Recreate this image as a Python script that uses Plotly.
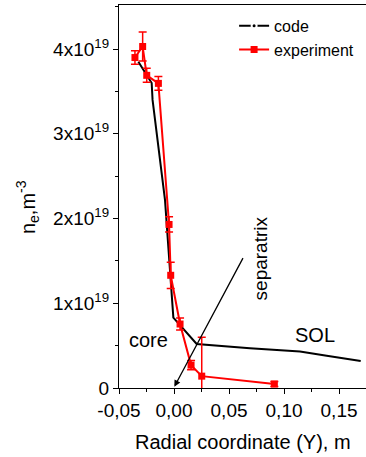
import plotly.graph_objects as go

# ---- data ----
code_x = [-0.0324, -0.0234, -0.0203, -0.0195, -0.0127, -0.0082, -0.0006, 0.0206, 0.069, 0.1145, 0.1388, 0.1697]
code_y = [3.85e19, 3.67e19, 3.60e19, 3.40e19, 2.71e19, 2.22e19, 0.83e19, 0.52e19, 0.468e19, 0.43e19, 0.38e19, 0.319e19]

exp_x = [-0.0355, -0.0285, -0.0248, -0.0142, -0.0045, -0.0030, 0.0055, 0.0155, 0.0252, 0.0912]
exp_y = [3.90e19, 4.03e19, 3.69e19, 3.595e19, 1.93e19, 1.33e19, 0.755e19, 0.27e19, 0.14e19, 0.047e19]
exp_err = [0.08e19, 0.17e19, 0.083e19, 0.08e19, 0.09e19, 0.155e19, 0.07e19, 0.055e19, 0.46e19, 0.03e19]

x_tick_vals = [-0.05, 0.0, 0.05, 0.10, 0.15]
x_tick_labels = ["-0,05", "0,00", "0,05", "0,10", "0,15"]
y_tick_vals = [0, 1e19, 2e19, 3e19, 4e19]
y_tick_labels = ["0", "1x10<sup>19</sup>", "2x10<sup>19</sup>", "3x10<sup>19</sup>", "4x10<sup>19</sup>"]

FONT = "Arial, Liberation Sans, sans-serif"

fig = go.Figure()

fig.add_trace(go.Scatter(
    x=code_x, y=code_y, mode="lines", name="code",
    line=dict(color="black", width=2), showlegend=False))

# legend-only entry for code (line with dot)
fig.add_trace(go.Scatter(
    x=[None], y=[None], mode="lines+markers", name="code",
    line=dict(color="black", width=2),
    marker=dict(color="black", size=5, symbol="circle",
                line=dict(color="white", width=2))))

fig.add_trace(go.Scatter(
    x=exp_x, y=exp_y, mode="lines+markers", name="experiment",
    line=dict(color="#ff0000", width=2),
    marker=dict(color="#ff0000", size=7, symbol="square"),
    error_y=dict(type="data", array=exp_err, visible=True,
                 color="#ff0000", thickness=1.5, width=4)))

fig.add_annotation(x=-0.0236, y=0.566e19, text="core", showarrow=False,
                   font=dict(size=20, color="black", family=FONT))
fig.add_annotation(x=0.128, y=0.625e19, text="SOL", showarrow=False,
                   font=dict(size=20, color="black", family=FONT))
fig.add_annotation(x=0.0782, y=1.53e19, text="separatrix", showarrow=False,
                   textangle=-90,
                   font=dict(size=19, color="black", family=FONT))
fig.add_annotation(x=0.0003, y=0.015e19, ax=0.0634, ay=1.55e19,
                   xref="x", yref="y", axref="x", ayref="y",
                   text="", showarrow=True, arrowhead=2, arrowsize=1,
                   arrowwidth=1.3, arrowcolor="black")

fig.add_annotation(xref="paper", yref="paper", x=0.502, y=-0.140,
                   xanchor="center", yanchor="middle",
                   text="Radial coordinate (Y), m", showarrow=False,
                   font=dict(size=20, color="black", family=FONT))
fig.add_annotation(xref="paper", yref="paper", x=-0.368, y=0.4726,
                   xanchor="center", yanchor="middle",
                   text="n<sub>e</sub>,m<sup>-3</sup>", showarrow=False,
                   textangle=-90,
                   font=dict(size=20, color="black", family=FONT))

fig.update_layout(
    width=366, height=457,
    margin=dict(l=119, r=0, t=5, b=69),
    plot_bgcolor="white", paper_bgcolor="white",
    font=dict(family=FONT, size=19, color="black"),
    legend=dict(x=0.466, y=0.99, xanchor="left", yanchor="top",
                bgcolor="rgba(0,0,0,0)", font=dict(size=16),
                tracegroupgap=0),
    xaxis=dict(range=[-0.05, 0.1745], showgrid=False, zeroline=False,
               showline=True, linecolor="black", linewidth=1.2, mirror=True,
               ticks="outside", ticklen=5, tickwidth=1.2, tickcolor="black",
               tickvals=x_tick_vals, ticktext=x_tick_labels,
               minor=dict(dtick=0.025, tick0=-0.05, ticks="outside", ticklen=3,
                          tickcolor="black", tickwidth=1)),
    yaxis=dict(range=[0, 4.52e19], showgrid=False, zeroline=False,
               showline=True, linecolor="black", linewidth=1.2,
               ticks="outside", ticklen=5, tickwidth=1.2, tickcolor="black",
               tickvals=y_tick_vals, ticktext=y_tick_labels,
               minor=dict(dtick=0.5e19, tick0=0, ticks="outside", ticklen=3,
                          tickcolor="black", tickwidth=1)),
)

fig.write_html("out.html",
               config={"displayModeBar": False},
               post_script="document.body.style.margin='0px';document.body.style.overflow='hidden';")
